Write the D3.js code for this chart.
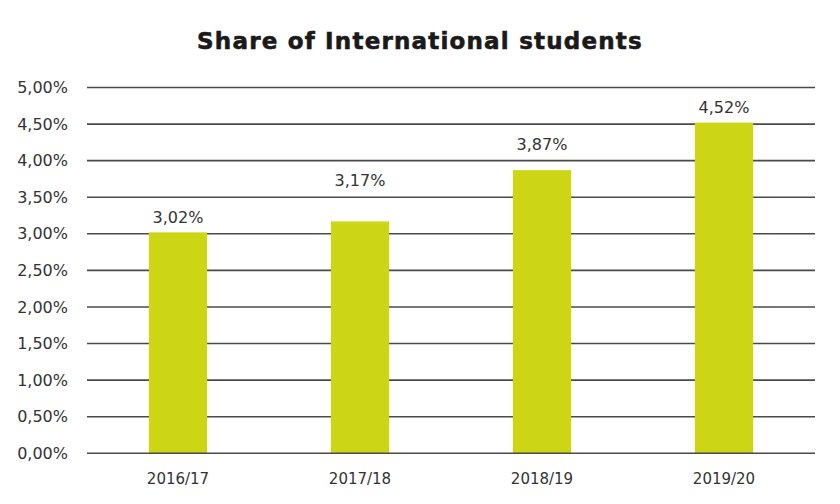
<!DOCTYPE html>
<html><head><meta charset="utf-8">
<script src="https://cdn.jsdelivr.net/npm/d3@7"></script>
<style>body{margin:0;background:#fff}svg{display:block}</style>
</head><body><svg id="c" width="840" height="504"></svg>
<script>
const categories = ["2016/17","2017/18","2018/19","2019/20"];
const values = [3.02, 3.17, 3.87, 4.52];
const yTicks = [0,0.5,1,1.5,2,2.5,3,3.5,4,4.5,5];
const title = "Share of International students";

const svg = d3.select("#c");
const x = d3.scaleBand().domain(categories).range([87, 815]).paddingInner(0.68).paddingOuter(0.34);
const y = d3.scaleLinear().domain([0,5]).range([453.3, 87.5]);
const fmt = v => v.toFixed(2).replace(".", ",") + "%";
const font = "'DejaVu Sans', sans-serif";

svg.append("text").attr("x", 420).attr("y", 49).attr("text-anchor","middle")
  .attr("font-family","'DejaVu Sans', sans-serif").attr("font-weight",700).attr("font-size",23)
  .attr("letter-spacing",1.2).attr("stroke","#1a1a1a").attr("stroke-width",0.6)
  .attr("fill","#1a1a1a").text(title);

const grid = svg.append("g");
grid.selectAll("line").data(yTicks.filter(d=>d>0)).join("line")
  .attr("x1",87).attr("x2",815).attr("y1",d=>y(d)).attr("y2",d=>y(d))
  .attr("stroke","#4a4a4a").attr("stroke-width",1.6);

const yAxis = svg.append("g").attr("transform","translate(87,0)")
  .call(d3.axisLeft(y).tickValues(yTicks).tickFormat(fmt).tickSize(0).tickPadding(19));
yAxis.select(".domain").remove();
yAxis.selectAll("text").attr("font-family",font).attr("font-size",16).attr("fill","#333");

svg.append("g").selectAll("rect").data(values).join("rect")
  .attr("x",(d,i)=>x(categories[i])).attr("width",x.bandwidth())
  .attr("y",d=>y(d)).attr("height",d=>y(0)-y(d)).attr("fill","#cdd614");

svg.append("line").attr("x1",87).attr("x2",815).attr("y1",y(0)).attr("y2",y(0))
  .attr("stroke","#4a4a4a").attr("stroke-width",1.6);

// labels sit just above the gridline nearest above the bar top
const anchor = v => Math.ceil((v - 0.05) / 0.5) * 0.5;
svg.append("g").selectAll("text").data(values).join("text")
  .attr("x",(d,i)=>x(categories[i])+x.bandwidth()/2).attr("y",d=>y(anchor(d))-11)
  .attr("text-anchor","middle").attr("font-family",font).attr("font-size",16).attr("fill","#333")
  .text(fmt);

const xAxis = svg.append("g").attr("transform",`translate(0,${y(0)})`)
  .call(d3.axisBottom(x).tickSize(0).tickPadding(20));
xAxis.select(".domain").remove();
xAxis.selectAll("text").attr("font-family",font).attr("font-size",15).attr("fill","#333");
</script></body></html>
